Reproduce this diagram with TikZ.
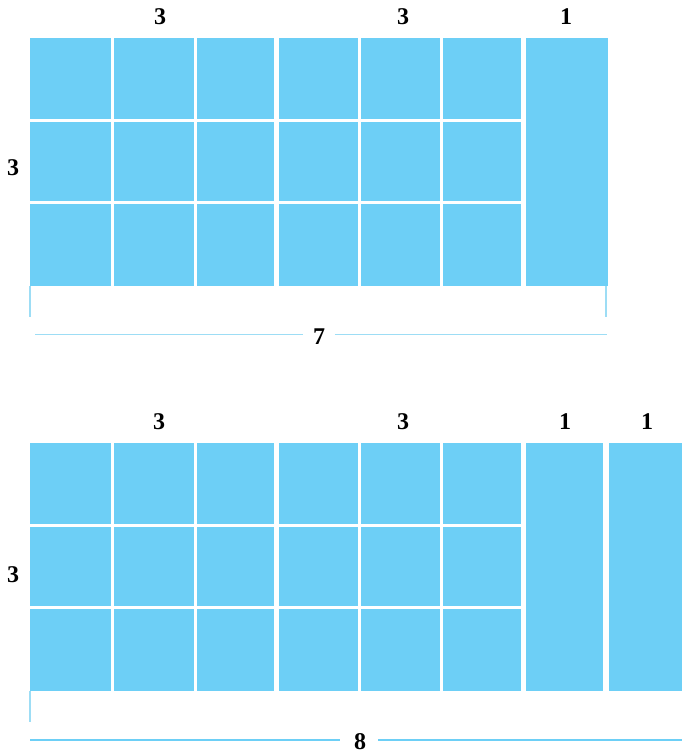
\documentclass[tikz,border=0pt]{standalone}
\usepackage{fontspec}
\setmainfont{Liberation Serif}
\definecolor{cellblue}{HTML}{6DCFF6}
\definecolor{linkblue}{HTML}{9DDDF5}
\definecolor{linkblue2}{HTML}{6DCFF6}
\begin{document}
\begin{tikzpicture}[x=1pt,y=-1pt,
  cell/.style={fill=cellblue,draw=none},
  lbl/.style={font=\fontsize{24}{24}\selectfont\bfseries,inner sep=0pt,anchor=center},
  brk/.style={draw=linkblue,line width=1.8pt},
  brkb/.style={draw=linkblue2,line width=1.8pt}]
\useasboundingbox (0,0) rectangle (682,756);
% ---------- top grid ----------
\foreach \xa/\xb in {29.5/110.5,113.5/193.5,196.5/274,279/357.5,360.5/440,443/521}{
  \foreach \ya/\yb in {38/118.5,121.5/201,204/285.7}{
    \fill[cell] (\xa,\ya) rectangle (\xb,\yb);
  }
}
\fill[cell] (526,38) rectangle (607.7,285.7);
\node[lbl] (t3a) at (160,17) {3};
\node[lbl] (t3b) at (403,17) {3};
\node[lbl] (t1) at (566,17) {1};
\node[lbl] (tl3) at (13,168) {3};
\coordinate (tl1) at (30.2,286);
\coordinate (tl2) at (30.2,317);
\coordinate (tr1) at (605.7,286);
\coordinate (tr2) at (605.7,317);
\node[lbl] (t7) at (319,336.5) {7};
\coordinate (tha) at (35,334.5);
\coordinate (thb) at (302.5,334.5);
\coordinate (thc) at (334.5,334.5);
\coordinate (thd) at (606.5,334.5);
\draw[brk] (tl1) -- (tl2);
\draw[brk] (tr1) -- (tr2);
\draw[brk] (tha) -- (thb);
\draw[brk] (thc) -- (thd);
% ---------- bottom grid ----------
\foreach \xa/\xb in {29.5/110.5,113.5/193.5,196.5/274,279/357.5,360.5/440,443/521}{
  \foreach \ya/\yb in {443/523.5,526.5/606,609/690.7}{
    \fill[cell] (\xa,\ya) rectangle (\xb,\yb);
  }
}
\fill[cell] (526,443) rectangle (603.3,690.7);
\fill[cell] (609,443) rectangle (682,690.7);
\node[lbl] (b3a) at (159,422) {3};
\node[lbl] (b3b) at (403,422) {3};
\node[lbl] (b1a) at (565,422) {1};
\node[lbl] (b1b) at (647,422) {1};
\node[lbl] (bl3) at (13,575) {3};
\coordinate (bl1) at (30.2,691);
\coordinate (bl2) at (30.2,721.7);
\node[lbl] (b8) at (360,742) {8};
\coordinate (bha) at (30,740.3);
\coordinate (bhb) at (340,740.3);
\coordinate (bhc) at (378,740.3);
\coordinate (bhd) at (682,740.3);
\draw[brk] (bl1) -- (bl2);
\draw[brkb] (bha) -- (bhb);
\draw[brkb] (bhc) -- (bhd);
\end{tikzpicture}
\end{document}
